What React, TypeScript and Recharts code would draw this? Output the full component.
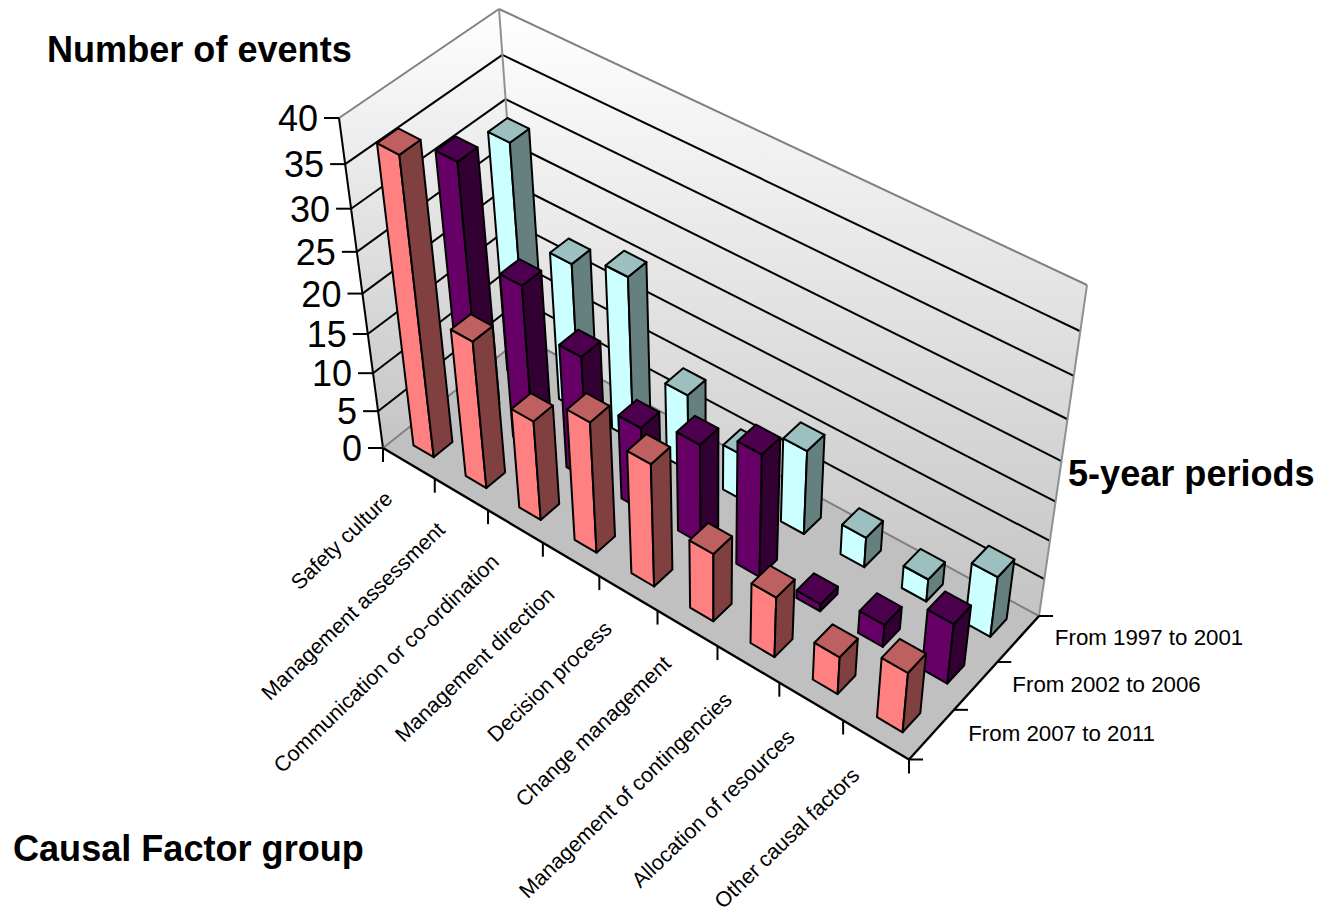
import { Bar, BarChart, Customized, XAxis, YAxis } from "recharts";

const causalFactors = [
  "Safety culture",
  "Management assessment",
  "Communication or co-ordination",
  "Management direction",
  "Decision process",
  "Change management",
  "Management of contingencies",
  "Allocation of resources",
  "Other causal factors",
];
const periods = ["From 2007 to 2011", "From 2002 to 2006", "From 1997 to 2001"];
const events2007 = [37, 19, 13, 17, 16, 9, 8, 5, 8];
const events2002 = [32, 21, 16, 11, 13, 16, 1, 3, 8];
const events1997 = [30, 19, 21, 10, 6, 11, 4, 3, 8];
const valueTicks = [0, 5, 10, 15, 20, 25, 30, 35, 40];

const rows = causalFactors.map((name, i) => ({
  name,
  p2007: events2007[i],
  p2002: events2002[i],
  p1997: events1997[i],
}));

const WIDTH = 1318;
const HEIGHT = 910;
const PLOT_HEIGHT = HEIGHT - 1;
const FONT = "'Liberation Sans', Arial, sans-serif";

type Pt = [number, number];

// floor and ceiling of the box, in order: left, front, right, back corner
const FLOOR: Pt[] = [[383, 448], [909, 759.5], [1039, 616], [523, 337]];
const CEILING: Pt[] = [[339, 118], [940, 431.5], [1087, 285], [499, 9]];
const HEIGHT_SKEW = 1.137;
const BAR_INSET = 0.305;

// unit square to quad perspective map
function quadMap(q: Pt[]) {
  const [[x0, y0], [x1, y1], [x2, y2], [x3, y3]] = q;
  const sx = x0 - x1 + x2 - x3;
  const sy = y0 - y1 + y2 - y3;
  const dx1 = x1 - x2;
  const dx2 = x3 - x2;
  const dy1 = y1 - y2;
  const dy2 = y3 - y2;
  const det = dx1 * dy2 - dx2 * dy1;
  const g = (sx * dy2 - dx2 * sy) / det;
  const h = (dx1 * sy - sx * dy1) / det;
  const a = x1 - x0 + g * x1;
  const b = x3 - x0 + h * x3;
  const d = y1 - y0 + g * y1;
  const e = y3 - y0 + h * y3;
  return (u: number, w: number): Pt => {
    const z = g * u + h * w + 1;
    return [(a * u + b * w + x0) / z, (d * u + e * w + y0) / z];
  };
}

const floorAt = quadMap(FLOOR);
const ceilingAt = quadMap(CEILING);

// u along the categories, w into the depth, v up the value axis (all 0..1)
function project(u: number, w: number, v: number): Pt {
  const t = v / (v + HEIGHT_SKEW * (1 - v));
  const [fx, fy] = floorAt(u, w);
  const [cx, cy] = ceilingAt(u, w);
  return [fx + (cx - fx) * t, fy + (cy - fy) * t];
}

const toPoints = (pts: Pt[]) => pts.map((p) => p.map((n) => n.toFixed(1)).join(",")).join(" ");

function Segment({ a, b, color = "#000", width = 2 }: { a: Pt; b: Pt; color?: string; width?: number }) {
  return <line x1={a[0]} y1={a[1]} x2={b[0]} y2={b[1]} stroke={color} strokeWidth={width} />;
}

function Backdrop() {
  const depthStep = 1 / periods.length;
  const corner = project(1, 0, 0);
  return (
    <g>
      <defs>
        <linearGradient id="wallFade" x1="0" y1="0" x2="0" y2="1">
          <stop offset="0" stopColor="#ffffff" />
          <stop offset="1" stopColor="#c4c4c4" />
        </linearGradient>
      </defs>
      <polygon points={toPoints([project(0, 0, 0), project(0, 1, 0), project(0, 1, 1), project(0, 0, 1)])} fill="url(#wallFade)" />
      <polygon points={toPoints([project(0, 1, 0), project(1, 1, 0), project(1, 1, 1), project(0, 1, 1)])} fill="url(#wallFade)" />
      <polygon points={toPoints([project(0, 0, 0), project(1, 0, 0), project(1, 1, 0), project(0, 1, 0)])} fill="#c0c0c0" />

      {valueTicks.slice(1, -1).map((t) => {
        const v = t / 40;
        return (
          <g key={t}>
            <Segment a={project(0, 0, v)} b={project(0, 1, v)} />
            <Segment a={project(0, 1, v)} b={project(1, 1, v)} />
          </g>
        );
      })}
      <Segment a={project(0, 0, 1)} b={project(0, 1, 1)} color="#808080" />
      <Segment a={project(0, 1, 1)} b={project(1, 1, 1)} color="#808080" />
      <Segment a={project(0, 1, 0)} b={project(0, 1, 1)} color="#909090" />
      <Segment a={project(1, 1, 0)} b={project(1, 1, 1)} color="#909090" />
      <Segment a={project(0, 0, 0)} b={project(0, 0, 1)} />
      <Segment a={project(0, 0, 0)} b={project(0, 1, 0)} color="#808080" />
      <Segment a={project(0, 1, 0)} b={project(1, 1, 0)} color="#808080" />
      <Segment a={project(0, 0, 0)} b={project(1, 0, 0)} width={2.4} />
      <Segment a={project(1, 0, 0)} b={project(1, 1, 0)} width={2.4} />

      {periods.map((label, i) => {
        const edge = project(1, (i + 1) * depthStep, 0);
        return <Segment key={label} a={edge} b={[edge[0] + 14, edge[1]]} />;
      })}
      {periods.map((label, i) => {
        const [x, y] = project(1, (i + 0.5) * depthStep, 0);
        return (
          <text key={label} x={x + 36.5} y={y + 6.5} fontFamily={FONT} fontSize={22.3} fill="#000">
            {label}
          </text>
        );
      })}
      <Segment a={corner} b={[corner[0] + 14, corner[1]]} />

      <text x={47} y={62} fontFamily={FONT} fontSize={36.1} fontWeight="bold">Number of events</text>
      <text x={13} y={861} fontFamily={FONT} fontSize={36.1} fontWeight="bold">Causal Factor group</text>
      <text x={1068} y={486} fontFamily={FONT} fontSize={36.1} fontWeight="bold">5-year periods</text>
    </g>
  );
}

function CategoryTick({ index, payload }: any) {
  const step = 1 / causalFactors.length;
  const edge = project((index + 1) * step, 0, 0);
  const [x, y] = project((index + 0.5) * step, 0, 0);
  const first = project(0, 0, 0);
  const lx = x - 15;
  const ly = y + 37;
  return (
    <g>
      {index === 0 && <Segment a={first} b={[first[0], first[1] + 14]} />}
      <Segment a={edge} b={[edge[0], edge[1] + 14]} />
      <text x={lx} y={ly} textAnchor="end" fontFamily={FONT} fontSize={21.4} fill="#000" transform={`rotate(-44 ${lx} ${ly})`}>
        {payload.value}
      </text>
    </g>
  );
}

function ValueTick({ payload }: any) {
  const [ex, ey] = project(0, 0, 1 - payload.coordinate / PLOT_HEIGHT);
  return (
    <g>
      <Segment a={[ex - 15, ey]} b={[ex, ey]} />
      <text x={ex - 21} y={ey + 13} textAnchor="end" fontFamily={FONT} fontSize={36} fill="#000">
        {payload.value}
      </text>
    </g>
  );
}

type Palette = { front: string; side: string; top: string };

function Cuboid({ index, height, depth, palette }: any) {
  const v = height / PLOT_HEIGHT;
  const cats = causalFactors.length;
  const u0 = (index + BAR_INSET) / cats;
  const u1 = (index + 1 - BAR_INSET) / cats;
  const w0 = (depth + BAR_INSET) / periods.length;
  const w1 = (depth + 1 - BAR_INSET) / periods.length;
  const { front, side, top } = palette as Palette;
  const faces: [Pt[], string][] = [
    [[project(u0, w0, 0), project(u1, w0, 0), project(u1, w0, v), project(u0, w0, v)], front],
    [[project(u1, w0, 0), project(u1, w1, 0), project(u1, w1, v), project(u1, w0, v)], side],
    [[project(u0, w0, v), project(u1, w0, v), project(u1, w1, v), project(u0, w1, v)], top],
  ];
  return (
    <g>
      {faces.map(([pts, fill], i) => (
        <polygon key={i} points={toPoints(pts)} fill={fill} stroke="#000" strokeWidth={2} strokeLinejoin="round" />
      ))}
    </g>
  );
}

const salmon: Palette = { front: "#ff8080", side: "#804040", top: "#bf6060" };
const plum: Palette = { front: "#660066", side: "#330033", top: "#4d004d" };
const ice: Palette = { front: "#ccffff", side: "#668080", top: "#9cc0c0" };

export default function App() {
  return (
    <div style={{ position: "absolute", left: 0, top: 0, width: WIDTH, height: HEIGHT, background: "#fff" }}>
      <BarChart
        width={WIDTH}
        height={HEIGHT}
        data={rows}
        margin={{ top: 0, right: 0, bottom: 0, left: 0 }}
        barGap={0}
        barCategoryGap={0}
      >
        <Customized component={Backdrop} />
        <XAxis dataKey="name" height={1} interval={0} axisLine={false} tickLine={false} tick={<CategoryTick />} />
        <YAxis width={1} domain={[0, 40]} ticks={valueTicks} interval={0} axisLine={false} tickLine={false} tick={<ValueTick />} />
        {/* drawn back to front so nearer boxes cover farther ones */}
        <Bar dataKey="p1997" isAnimationActive={false} shape={(p: any) => <Cuboid {...p} depth={2} palette={ice} />} />
        <Bar dataKey="p2002" isAnimationActive={false} shape={(p: any) => <Cuboid {...p} depth={1} palette={plum} />} />
        <Bar dataKey="p2007" isAnimationActive={false} shape={(p: any) => <Cuboid {...p} depth={0} palette={salmon} />} />
      </BarChart>
    </div>
  );
}
